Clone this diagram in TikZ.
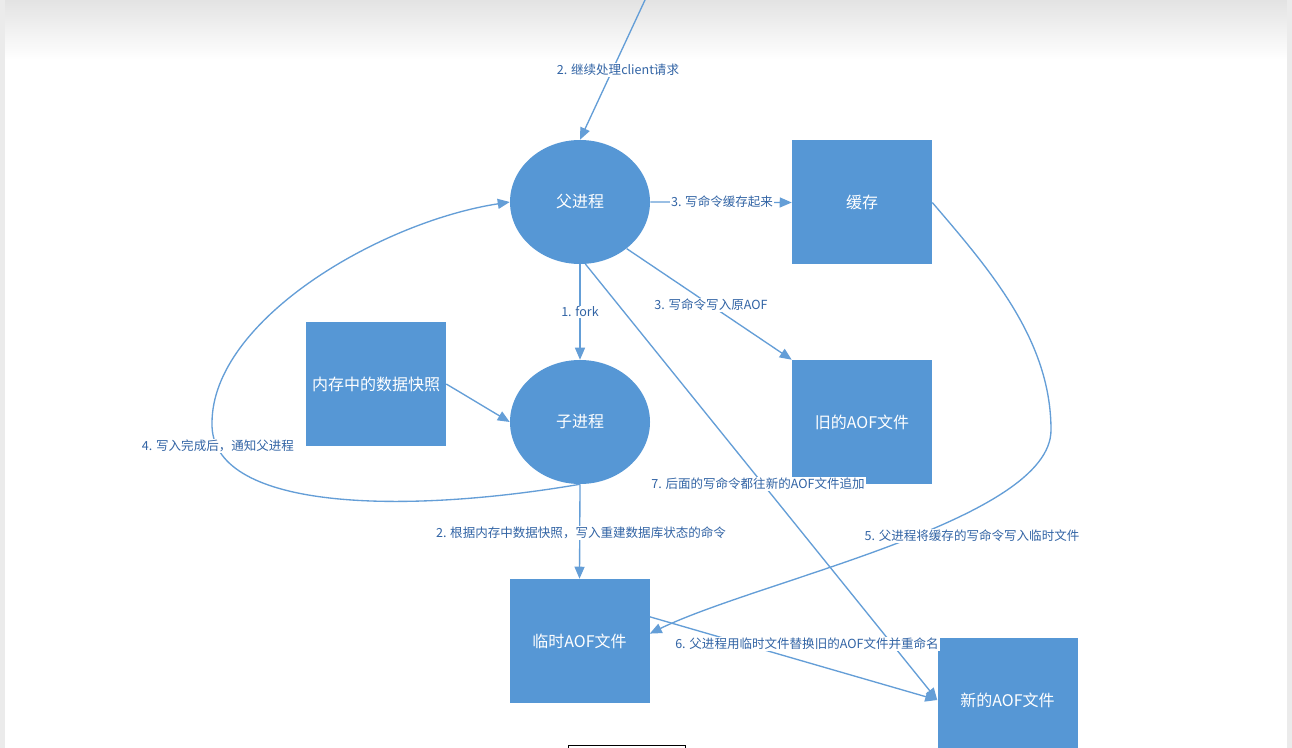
\documentclass[tikz,border=0pt]{standalone}
\usepackage{fontspec}
\setmainfont{Noto Sans CJK SC}
\usetikzlibrary{shapes.geometric,arrows.meta,calc}
\definecolor{boxblue}{RGB}{86,151,213}
\definecolor{lineblue}{RGB}{100,158,215}
\definecolor{lbl}{RGB}{50,100,165}
\begin{document}
\begin{tikzpicture}[x=0.75pt,y=-0.75pt,
  proc/.style={ellipse,fill=boxblue,minimum width=105pt,minimum height=93pt,inner sep=0pt,text=white,font=\fontsize{12}{14}\selectfont},
  blk/.style={rectangle,fill=boxblue,minimum width=105pt,minimum height=93pt,inner sep=0pt,text=white,font=\fontsize{12}{14}\selectfont},
  arr/.style={draw=lineblue,line width=1pt,-{Triangle[length=9pt,width=7.5pt]}},
  lab/.style={fill=white,text=lbl,font=\fontsize{9.4}{10}\selectfont,inner sep=1pt}]
\useasboundingbox (0,0) rectangle (1292,748);
% background
\fill[white] (0,0) rectangle (1292,748);
\shade[top color=black!11,bottom color=white] (0,0) rectangle (1292,60);
\fill[black!8] (0,0) rectangle (5,748);
\fill[black!8] (1287,0) rectangle (1292,748);
% nodes
\node[proc] (p) at (580,202) {父进程};
\node[proc] (c) at (580,422) {子进程};
\node[blk] (cache) at (862,202.5) {缓存};
\node[blk] (mem) at (376,384) {内存中的数据快照};
\node[blk] (old) at (862,422) {旧的AOF文件};
\node[blk] (tmp) at (579.5,641) {临时AOF文件};
\node[blk] (new) at (1007.5,700) {新的AOF文件};
\coordinate (top) at (645,0);
% connectors
\draw[arr] (top) -- (p.north);
\draw[arr] (p.east) -- (cache.west);
\draw[arr] (p.south) -- (c.north);
\draw[arr] (p.-45) -- (old.north west);
\draw[arr] (p.-85) -- (new.west);
\draw[arr] (mem.east) -- (c.west);
\draw[arr] (c.south) .. controls (400,515) and (210,510) .. (212,423)
  .. controls (212,320) and (380,222) .. (p.west);
\draw[arr] (c.south) -- (tmp.north);
\draw[arr] (cache.east) .. controls (990,270) and (1051,340) .. (1051,430)
  .. controls (1051,520) and (760,580) .. (tmp.6);
\draw[arr] (tmp.19) -- (new.west);
% labels
\node[lab] (l1) at (618,70) {2. 继续处理client请求};
\node[lab] (l2) at (722,202) {3. 写命令缓存起来};
\node[lab] (l3) at (580,312) {1. fork};
\node[lab] (l4) at (711,305) {3. 写命令写入原AOF};
\node[lab] (l5) at (758,484) {7. 后面的写命令都往新的AOF文件追加};
\node[lab] (l6) at (218,446) {4. 写入完成后，通知父进程};
\node[lab] (l7) at (581,533) {2. 根据内存中数据快照，写入重建数据库状态的命令};
\node[lab] (l8) at (972,536) {5. 父进程将缓存的写命令写入临时文件};
\node[lab] (l9) at (807,644) {6. 父进程用临时文件替换旧的AOF文件并重命名};
% bottom frame fragment
\draw[black,line width=0.6pt] (568,745.5) rectangle (685,760);
\end{tikzpicture}
\end{document}
